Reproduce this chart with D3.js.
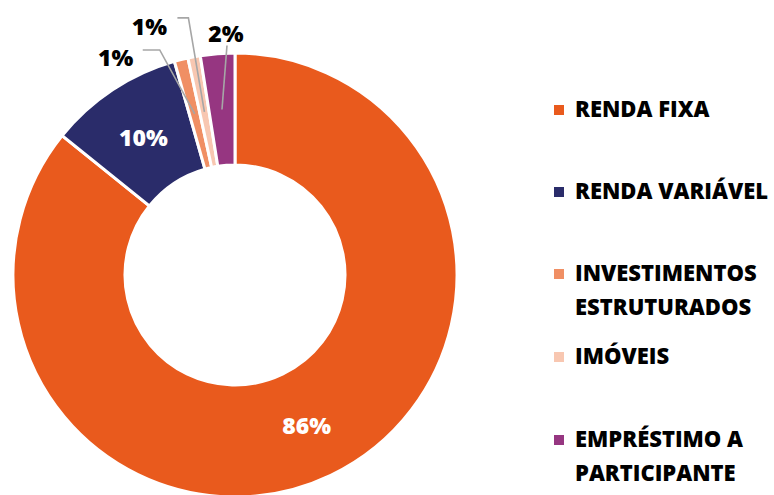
<!DOCTYPE html>
<html><head><meta charset="utf-8">
<script src="https://cdn.jsdelivr.net/npm/d3@7"></script>
<style>body{margin:0;background:#fff}svg{display:block}text{font-family:"Open Sans","Noto Sans",sans-serif;font-weight:800}</style>
</head><body>
<svg id="c" width="774" height="495"></svg>
<script>
const categories = ["RENDA FIXA", "RENDA VARIÁVEL", "INVESTIMENTOS ESTRUTURADOS", "IMÓVEIS", "EMPRÉSTIMO A PARTICIPANTE"];
const legendLines = [["RENDA FIXA"], ["RENDA VARIÁVEL"], ["INVESTIMENTOS", "ESTRUTURADOS"], ["IMÓVEIS"], ["EMPRÉSTIMO A", "PARTICIPANTE"]];
const values = [85.8, 9.8, 1.0, 0.9, 2.5];
const valueLabels = ["86%", "10%", "1%", "1%", "2%"];
const colors = ["#E95A1D", "#2A2C6A", "#F08F64", "#F8C7B1", "#963681"];

const svg = d3.select("#c");
const cx = 235, cy = 275, rOuter = 222, rInner = 110;
const g = svg.append("g").attr("transform", `translate(${cx},${cy})`);
const pie = d3.pie().sort(null).value(d => d);
const arcs = pie(values);
const arc = d3.arc().innerRadius(rInner).outerRadius(rOuter);
const labelArc = d3.arc().innerRadius((rInner + rOuter) / 2).outerRadius((rInner + rOuter) / 2);

g.selectAll("path.slice").data(arcs).join("path")
  .attr("class", "slice")
  .attr("d", arc)
  .attr("fill", (d, i) => colors[i])
  .attr("stroke", "#fff").attr("stroke-width", 3).attr("stroke-linejoin", "miter");

// inside labels
const inside = [0, 1];
inside.forEach(i => {
  const [x, y] = labelArc.centroid(arcs[i]);
  g.append("text").attr("x", x).attr("y", y + 9).attr("text-anchor", "middle")
    .attr("fill", "#fff").attr("font-size", 23)
    .text(valueLabels[i]);
});

// outside labels with leaders: offsets relative to centroid (elbow, label)
const outside = [
  {i: 2, elbow: [-35, -64], start: [-52, -64], label: [-79, -56]},
  {i: 3, elbow: [-16, -94], start: [-27, -94], label: [-55, -85]},
  {i: 4, elbow: [5, -64], start: [5, -64], label: [4, -76]}
];
outside.forEach(o => {
  const [x, y] = labelArc.centroid(arcs[o.i]);
  const pts = [[x + o.start[0], y + o.start[1]], [x + o.elbow[0], y + o.elbow[1]], [x, y]];
  g.append("path").attr("d", d3.line()(pts)).attr("fill", "none")
    .attr("stroke", "#A6A6A6").attr("stroke-width", 1.6);
  g.append("text").attr("x", x + o.label[0]).attr("y", y + o.label[1] + 8)
    .attr("text-anchor", "middle")
    .attr("fill", "#000").attr("font-size", 23).text(valueLabels[o.i]);
});

// legend
const legendY = [117, 199, 281, 364, 447];
const lg = svg.append("g");
categories.forEach((c, i) => {
  lg.append("rect").attr("x", 554).attr("y", legendY[i] - 12).attr("width", 10).attr("height", 10)
    .attr("fill", colors[i]);
  legendLines[i].forEach((t, j) => {
    lg.append("text").attr("x", 575).attr("y", legendY[i] + j * 34)
      .attr("font-size", 22).attr("fill", "#000").text(t);
  });
});
</script>
</body></html>
